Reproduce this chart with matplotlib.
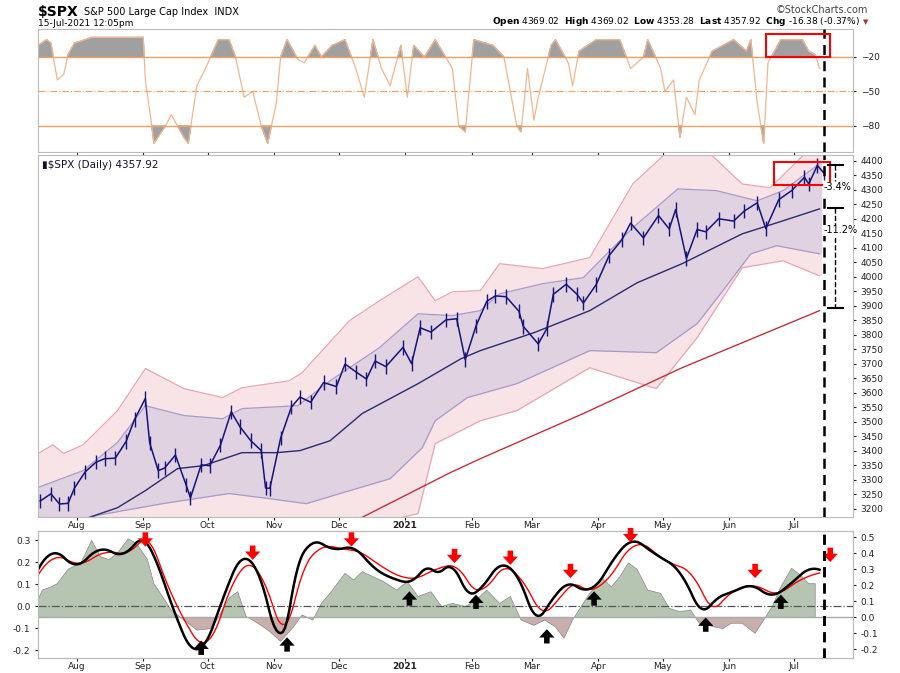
"""S&P 500 daily chart with %R, Bollinger-style envelopes and an oscillator panel."""

import matplotlib
matplotlib.use('Agg')
import matplotlib.pyplot as plt
import numpy as np
import pandas as pd

START = pd.Timestamp('2020-07-14')

# ---- price (approx closes) ----
price_dates = ['2020-07-15', '2020-07-20', '2020-07-24', '2020-07-28', '2020-07-31',
               '2020-08-05', '2020-08-10', '2020-08-14', '2020-08-19', '2020-08-24',
               '2020-08-28', '2020-09-02', '2020-09-04', '2020-09-08', '2020-09-11',
               '2020-09-16', '2020-09-21', '2020-09-23', '2020-09-28', '2020-10-02',
               '2020-10-07', '2020-10-12', '2020-10-16', '2020-10-21', '2020-10-26',
               '2020-10-28', '2020-10-30', '2020-11-04', '2020-11-09', '2020-11-13',
               '2020-11-18', '2020-11-24', '2020-11-30', '2020-12-04', '2020-12-09',
               '2020-12-14', '2020-12-18', '2020-12-23', '2020-12-31', '2021-01-04',
               '2021-01-08', '2021-01-13', '2021-01-20', '2021-01-25', '2021-01-29',
               '2021-02-03', '2021-02-08', '2021-02-12', '2021-02-17', '2021-02-23',
               '2021-02-25', '2021-03-04', '2021-03-08', '2021-03-11', '2021-03-17',
               '2021-03-22', '2021-03-25', '2021-03-31', '2021-04-06', '2021-04-12',
               '2021-04-16', '2021-04-22', '2021-04-29', '2021-05-04', '2021-05-07',
               '2021-05-12', '2021-05-17', '2021-05-21', '2021-05-27', '2021-06-03',
               '2021-06-08', '2021-06-14', '2021-06-18', '2021-06-24', '2021-06-30',
               '2021-07-06', '2021-07-08', '2021-07-12', '2021-07-15']
price_close = [3226, 3251, 3216, 3218, 3271, 3327, 3360, 3372, 3374, 3431,
               3508, 3580, 3427, 3331, 3340, 3385, 3281, 3237, 3351, 3348,
               3419, 3534, 3483, 3435, 3400, 3271, 3270, 3443, 3550, 3585,
               3567, 3635, 3621, 3699, 3672, 3647, 3709, 3690, 3756, 3700,
               3824, 3809, 3851, 3855, 3714, 3830, 3915, 3934, 3931, 3881,
               3829, 3768, 3821, 3939, 3974, 3940, 3909, 3973, 4073, 4128,
               4185, 4134, 4211, 4165, 4232, 4063, 4163, 4155, 4200, 4192,
               4227, 4255, 4166, 4266, 4297, 4343, 4320, 4384, 4358]

# ---- envelopes (day offsets from START) ----
outer_up_day = [0, 7, 12, 21, 37, 50, 68, 86, 95, 117, 123, 145, 159, 177, 185, 193,
                206, 215, 235, 257, 277, 293, 313, 328, 341, 358, 365]
outer_up = [3390, 3420, 3390, 3420, 3538, 3683, 3614, 3583, 3617, 3641, 3669, 3848,
            3917, 4000, 3917, 3948, 3952, 4045, 4028, 4066, 4320, 4430, 4425, 4320,
            4307, 4430, 4460]
inner_up_day = [0, 21, 37, 50, 68, 86, 95, 121, 136, 159, 177, 193, 206, 215, 235,
                254, 277, 298, 316, 335, 347, 364]
inner_up = [3273, 3331, 3428, 3555, 3521, 3510, 3545, 3555, 3641, 3755, 3872, 3866,
            3883, 3941, 3976, 3997, 4169, 4303, 4297, 4262, 4297, 4390]
mid_day = [0, 24, 37, 50, 65, 77, 95, 111, 122, 136, 151, 177, 197, 206, 231, 257,
           279, 300, 328, 347, 364]
mid = [3120, 3170, 3203, 3262, 3338, 3348, 3393, 3393, 3400, 3434, 3528, 3631, 3717,
       3745, 3807, 3883, 3979, 4045, 4148, 4193, 4234]
inner_lo_day = [0, 27, 58, 89, 108, 125, 142, 164, 179, 185, 200, 223, 257, 288, 307,
                319, 332, 344, 364]
inner_lo = [3100, 3176, 3217, 3252, 3234, 3217, 3255, 3303, 3410, 3503, 3583, 3631,
            3745, 3738, 3838, 3952, 4079, 4107, 4079]
outer_lo_day = [0, 122, 159, 177, 185, 206, 223, 257, 288, 307, 328, 347, 364]
outer_lo = [3000, 3100, 3150, 3183, 3424, 3503, 3538, 3686, 3614, 3790, 4031, 4055, 4003]
ma200_day = [140, 151, 192, 206, 254, 300, 364]
ma200 = [3140, 3170, 3324, 3372, 3528, 3686, 3883]

# ---- Williams %R (top panel) ----
wr_day = [0, 4, 6, 9, 12, 14, 17, 22, 25, 49, 50, 53, 54, 60, 62, 68, 70, 74, 78, 84,
          89, 92, 96, 100, 104, 107, 111, 113, 116, 121, 124, 129, 132, 137, 143, 148,
          152, 156, 160, 164, 169, 172, 175, 180, 185, 193, 196, 199, 203, 212, 217,
          220, 223, 225, 228, 231, 233, 239, 241, 247, 249, 252, 260, 271, 276, 282,
          284, 290, 292, 296, 299, 302, 306, 308, 314, 319, 324, 330, 332, 335, 338,
          340, 346, 351, 356, 359, 362, 364]
wr = [-10, -5, -8, -40, -35, -18, -8, -5, -3, -3, -40, -80, -95, -78, -70, -90, -95,
      -45, -30, -5, -5, -20, -55, -50, -80, -95, -60, -20, -5, -22, -25, -10, -20, -10,
      -5, -30, -55, -5, -30, -45, -10, -55, -10, -20, -5, -30, -80, -85, -5, -10, -20,
      -50, -80, -85, -30, -75, -55, -10, -5, -25, -45, -15, -5, -5, -30, -20, -5, -30,
      -50, -40, -90, -55, -70, -40, -15, -10, -5, -15, -5, -60, -95, -25, -5, -5, -5,
      -15, -18, -30]

# ---- oscillator (bottom panel) ----
osc_day = [0, 8, 17, 29, 40, 50, 56, 62, 73, 78, 86, 95, 103, 112, 115, 120, 128, 137,
           148, 156, 167, 173, 183, 185, 193, 201, 207, 215, 223, 233, 239, 247, 255,
           260, 268, 276, 287, 300, 310, 316, 324, 332, 342, 351, 359, 364]
osc_fast = [0.165, 0.24, 0.19, 0.255, 0.24, 0.29, 0.18, 0.015, -0.195, -0.165, 0.03,
            0.21, 0.135, -0.12, -0.1, 0.135, 0.285, 0.262, 0.255, 0.18, 0.12, 0.112,
            0.168, 0.157, 0.172, 0.06, 0.09, 0.18, 0.135, -0.045, 0.022, 0.097, 0.075,
            0.097, 0.21, 0.29, 0.24, 0.135, -0.015, 0.03, 0.067, 0.09, 0.052, 0.105,
            0.165, 0.165]
sig_day = [0, 9, 18, 32, 42, 52, 60, 68, 76, 82, 89, 100, 105, 115, 124, 132, 143, 149,
           159, 169, 175, 185, 196, 204, 209, 217, 225, 236, 243, 249, 257, 263, 279,
           292, 306, 314, 322, 334, 344, 354, 364]
osc_slow = [0.14, 0.22, 0.195, 0.243, 0.247, 0.285, 0.105, -0.06, -0.165, -0.12, 0.06,
            0.18, 0.112, -0.082, 0.165, 0.262, 0.258, 0.247, 0.187, 0.135, 0.127, 0.165,
            0.165, 0.075, 0.09, 0.168, 0.12, -0.022, 0.037, 0.093, 0.075, 0.102, 0.277,
            0.21, 0.12, 0.0, 0.052, 0.09, 0.06, 0.112, 0.15]
hist_day = [0, 2, 6, 9, 14, 20, 25, 29, 33, 37, 42, 46, 51, 54, 58, 62, 68, 74, 81, 85,
            89, 93, 97, 100, 105, 108, 113, 119, 123, 128, 132, 136, 143, 147, 151, 156,
            161, 167, 172, 177, 183, 188, 193, 199, 204, 209, 215, 220, 225, 231, 236,
            241, 245, 249, 253, 257, 263, 267, 271, 275, 279, 284, 290, 294, 299, 304,
            308, 315, 319, 323, 328, 334, 338, 342, 346, 351, 355, 359, 362]
hist = [0.108, 0.17, 0.19, 0.21, 0.3, 0.34, 0.48, 0.38, 0.36, 0.4, 0.49, 0.46, 0.36,
        0.21, 0.13, 0.046, -0.017, -0.08, -0.07, 0.025, 0.12, 0.16, 0.004, -0.017,
        -0.06, -0.09, -0.15, -0.06, 0.015, -0.017, 0.087, 0.15, 0.275, 0.233, 0.285,
        0.254, 0.223, 0.17, 0.223, 0.13, 0.16, 0.067, 0.087, 0.067, 0.108, 0.17, 0.087,
        0.13, -0.017, -0.05, -0.017, -0.06, -0.13, -0.017, 0.067, 0.15, 0.244, 0.19,
        0.254, 0.34, 0.3, 0.17, 0.15, 0.056, 0.035, 0.046, -0.037, -0.06, -0.07, -0.037,
        -0.037, -0.1, -0.017, 0.067, 0.19, 0.306, 0.265, 0.21, 0.21]

sell_day = [50, 100, 146, 194, 220, 248, 276, 334, 369]
sell_lvl = [0.27, 0.21, 0.27, 0.195, 0.187, 0.127, 0.29, 0.127, 0.2]
buy_day = [76, 116, 173, 204, 237, 259, 311, 346]
buy_lvl = [-0.157, -0.142, 0.067, 0.052, -0.105, 0.067, -0.052, 0.052]

months = ['2020-08-01', '2020-09-01', '2020-10-01', '2020-11-01', '2020-12-01',
          '2021-01-01', '2021-02-01', '2021-03-01', '2021-04-01', '2021-05-01',
          '2021-06-01', '2021-07-01']
month_labels = ['Aug', 'Sep', 'Oct', 'Nov', 'Dec', '2021', 'Feb', 'Mar', 'Apr',
                'May', 'Jun', 'Jul']


def days(lst):
    return START + pd.to_timedelta(np.asarray(lst), unit='D')


plt.rcParams['font.family'] = 'DejaVu Sans'
plt.rcParams['font.size'] = 6.5
fig = plt.figure(figsize=(9, 6.73), dpi=100)
W, H = 900, 673
L, R = 38 / W, 853 / W


def panel(top, bot):
    return fig.add_axes([L, 1 - bot / H, R - L, (bot - top) / H])


ax_wr = panel(29, 152)
ax_p = panel(155, 517)
ax_o = panel(531, 658)
ax_o2 = ax_o.twinx()

xlim = (START, START + pd.Timedelta(days=379.6))
mdates = pd.to_datetime(months)
dash_x = pd.Timestamp('2021-07-15')
grey = '#bbbbbb'

for ax in (ax_wr, ax_p, ax_o, ax_o2):
    ax.set_xlim(*xlim)
    for s in ax.spines.values():
        s.set_color(grey)
    ax.tick_params(colors='#222222', length=2, labelsize=6.5, direction='out')
    ax.yaxis.tick_right()
    ax.set_xticks(mdates)
    ax.set_xticklabels([])
    ax.axvline(dash_x, color='black', ls=(0, (4, 2.5)), lw=1.8, zorder=10)

# ---- top %R ----
wd, wv = days(wr_day), np.array(wr)
ax_wr.plot(wd, wv, color='#f6b48c', lw=0.9)
ax_wr.fill_between(wd, wv, -20, where=wv > -20, interpolate=True, color='#a0a0a0')
ax_wr.fill_between(wd, wv, -80, where=wv < -80, interpolate=True, color='#a0a0a0')
ax_wr.axhline(-20, color='#f4a060', lw=1)
ax_wr.axhline(-80, color='#f4a060', lw=1)
ax_wr.axhline(-50, color='#f4a060', lw=0.8, ls='-.')
ax_wr.set_ylim(-102.6, 4.3)
ax_wr.set_yticks([-20, -50, -80])
ax_wr.add_patch(plt.Rectangle((pd.Timestamp('2021-06-18'), -20), pd.Timedelta(days=30),
                              20, fill=False, ec='red', lw=1.5, zorder=11))

# ---- main price ----
grid = np.arange(0, 366)
ox = days(grid)
oup = np.interp(grid, outer_up_day, outer_up)
olo = np.interp(grid, outer_lo_day, outer_lo)
iup = np.interp(grid, inner_up_day, inner_up)
ilo = np.interp(grid, inner_lo_day, inner_lo)
ax_p.fill_between(ox, olo, oup, color='#f8e4e7', lw=0)
ax_p.fill_between(ox, ilo, iup, color='#e1d2e2', lw=0)
ax_p.plot(days(outer_up_day), outer_up, color='#eaa4b4', lw=0.9)
ax_p.plot(days(outer_lo_day), outer_lo, color='#eaa4b4', lw=0.9)
ax_p.plot(days(inner_up_day), inner_up, color='#a79ac9', lw=0.9)
ax_p.plot(days(inner_lo_day), inner_lo, color='#a79ac9', lw=0.9)
ax_p.plot(days(mid_day), mid, color='#2b2a6e', lw=1)
ax_p.plot(days(ma200_day), ma200, color='#c4303c', lw=1)
pdt = pd.to_datetime(price_dates)
ax_p.plot(pdt, price_close, color='#14147a', lw=1.1)
ax_p.vlines(pdt, np.array(price_close) - 25, np.array(price_close) + 25,
            color='#14147a', lw=1)
ax_p.set_ylim(3171, 4420)
ax_p.set_yticks(np.arange(3200, 4401, 50))
ax_p.text(0.005, 0.985, '\u25ae$SPX (Daily) 4357.92', transform=ax_p.transAxes,
          va='top', fontsize=7.5, color='#111133')
ax_p.add_patch(plt.Rectangle((pd.Timestamp('2021-06-22'), 4317),
                             pd.Timedelta(days=26), 80, fill=False, ec='red',
                             lw=1.5, zorder=11))
bx = pd.Timestamp('2021-07-20')
for lvl in (4386, 4238, 3893):
    ax_p.plot([bx - pd.Timedelta(days=3), bx + pd.Timedelta(days=4)], [lvl, lvl],
              color='black', lw=1.5, zorder=11)
ax_p.plot([bx, bx], [4386, 4330], color='black', lw=1, ls='--', zorder=11)
ax_p.plot([bx, bx], [4238, 3893], color='black', lw=1, ls='--', zorder=11)
ax_p.text(dash_x, 4308, '-3.4%', fontsize=7, va='center', zorder=12,
          bbox=dict(fc='white', ec='none', pad=0.5))
ax_p.text(dash_x, 4160, '-11.2%', fontsize=7, va='center', zorder=12,
          bbox=dict(fc='white', ec='none', pad=0.5))
ax_p.set_xticklabels(month_labels)
ax_p.tick_params(axis='x', pad=1)
for t in ax_p.get_xticklabels():
    if t.get_text() == '2021':
        t.set_fontweight('bold')

# ---- bottom oscillator ----
hd, hv = days(hist_day), np.array(hist)
ax_o2.fill_between(hd, hv, 0, where=hv >= 0, interpolate=True, color='#b5c5b1',
                   edgecolor='#888888', lw=0.5)
ax_o2.fill_between(hd, hv, 0, where=hv <= 0, interpolate=True, color='#c8aeac',
                   edgecolor='#888888', lw=0.5)
ax_o2.axhline(0, color='#aaaaaa', lw=1)
ax_o2.set_ylim(-0.254, 0.539)
ax_o2.set_yticks([-0.2, -0.1, 0.0, 0.1, 0.2, 0.3, 0.4, 0.5])
ax_o2.set_yticklabels(['-0.2', '-0.1', '0.0', '0.1', '0.2', '0.3', '0.4', '0.5'])
ax_o.set_zorder(ax_o2.get_zorder() + 1)
ax_o.patch.set_visible(False)
ax_o.yaxis.tick_left()
ax_o.set_ylim(-0.236, 0.341)
ax_o.set_yticks([-0.2, -0.1, 0.0, 0.1, 0.2, 0.3])
ax_o.set_yticklabels(['-0.2', '-0.1', '0.0', '0.1', '0.2', '0.3'])
ax_o.axhline(0, color='#555555', lw=0.9, ls='-.')
fd = pd.Series(osc_fast, index=days(osc_day)).resample('D').interpolate('quadratic')
sd = pd.Series(osc_slow, index=days(sig_day)).resample('D').interpolate('quadratic')
ax_o.plot(sd.index, sd.values, color='red', lw=1)
ax_o.plot(fd.index, fd.values, color='black', lw=1.8)
for d, lv in zip(sell_day, sell_lvl):
    x = START + pd.Timedelta(days=d)
    ax_o.annotate('', xy=(x, lv), xytext=(x, lv + 0.065), annotation_clip=False,
                  arrowprops=dict(width=4, headwidth=11, headlength=6, color='red', lw=0))
for d, lv in zip(buy_day, buy_lvl):
    x = START + pd.Timedelta(days=d)
    ax_o.annotate('', xy=(x, lv), xytext=(x, lv - 0.065),
                  arrowprops=dict(width=4, headwidth=11, headlength=6, color='black', lw=0))
ax_o.set_xticklabels(month_labels)
ax_o.tick_params(axis='x', pad=1)
for t in ax_o.get_xticklabels():
    if t.get_text() == '2021':
        t.set_fontweight('bold')

# ---- header ----
fig.text(38 / W, 1 - 12 / H, '$SPX', fontsize=10, fontweight='bold', va='center')
fig.text(84 / W, 1 - 12 / H, 'S&P 500 Large Cap Index  INDX', fontsize=7, va='center')
fig.text(38 / W, 1 - 23 / H, '15-Jul-2021 12:05pm', fontsize=6.5, va='center')
fig.text(868 / W, 1 - 10 / H, '\u00a9StockCharts.com', fontsize=7, va='center',
         ha='right', color='#444444')
fig.text(860 / W, 1 - 22 / H,
         r'$\bf{Open}$ 4369.02  $\bf{High}$ 4369.02  $\bf{Low}$ 4353.28  '
         r'$\bf{Last}$ 4357.92  $\bf{Chg}$ -16.38 (-0.37%)',
         fontsize=6.5, va='center', ha='right')
fig.text(863 / W, 1 - 22 / H, '\u25bc', fontsize=5, va='center', color='#b03030')

fig.savefig('out.png', dpi=100)
